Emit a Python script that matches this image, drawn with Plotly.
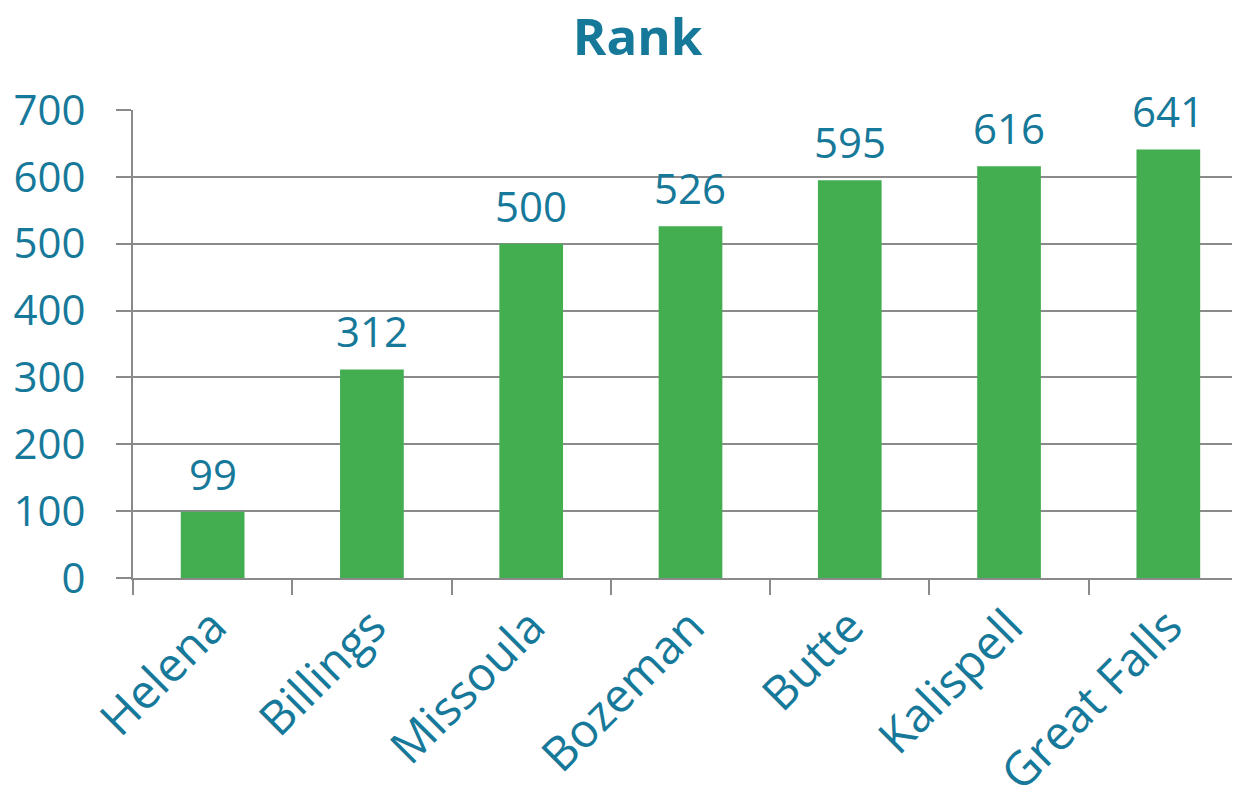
import plotly.graph_objects as go

cities = ["Helena", "Billings", "Missoula", "Bozeman", "Butte", "Kalispell", "Great Falls"]
ranks = [99, 312, 500, 526, 595, 616, 641]
y_ticks = [0, 100, 200, 300, 400, 500, 600, 700]

TEAL = "#17799A"
GREEN = "#43AE50"
GRID = "#8A8A8A"
FONT = "Open Sans"

fig = go.Figure()
fig.add_trace(go.Bar(x=cities, y=ranks, marker=dict(color=GREEN, line=dict(width=0)), width=0.4))

for c, v in zip(cities, ranks):
    fig.add_annotation(x=c, y=v, text=str(v), showarrow=False, yanchor="bottom",
                       yshift=8, font=dict(family=FONT, size=42, color=TEAL))

fig.update_layout(
    width=1232, height=795,
    margin=dict(l=125, r=0, t=102, b=225, autoexpand=False),
    paper_bgcolor="white", plot_bgcolor="white",
    showlegend=False,
    title=dict(text="<b>Rank</b>", x=0.511, xanchor="center", y=0.963, yanchor="middle",
               font=dict(family=FONT, size=51, color=TEAL)),
    font=dict(family=FONT, color=TEAL),
)
fig.update_xaxes(
    type="category", range=[-0.5, 6.45], tickangle=-45, automargin=False,
    tickfont=dict(family=FONT, size=47, color=TEAL),
    showline=True, linecolor=GRID, linewidth=2,
    ticks="outside", tickson="boundaries", ticklen=15, tickwidth=2, tickcolor=GRID,
    showgrid=False,
)
fig.update_yaxes(
    range=[0, 700], tickvals=y_ticks, automargin=False,
    tickfont=dict(family=FONT, size=42, color=TEAL),
    showline=True, linecolor=GRID, linewidth=2,
    ticks="outside", ticklen=15, tickwidth=2, tickcolor=GRID,
    showgrid=True, gridcolor=GRID, gridwidth=2,
    ticklabelstandoff=22, zeroline=False,
)
fig.write_html("out.html")
